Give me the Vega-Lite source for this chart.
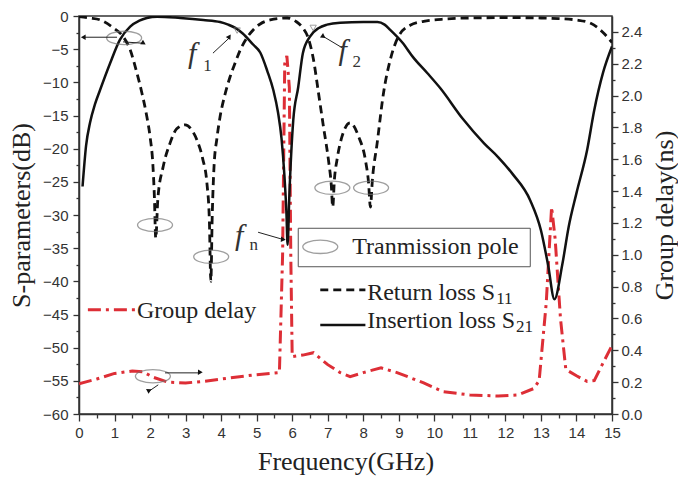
{
  "$schema": "https://vega.github.io/schema/vega-lite/v6.json",
  "width": 533,
  "height": 398,
  "autosize": {"type": "none"},
  "padding": {"left": 79, "top": 16, "right": 66, "bottom": 74},
  "background": "white",
  "view": {"stroke": "#333", "strokeWidth": 1.5},
  "config": {
    "axis": {
      "labelFont": "Liberation Sans", "labelFontSize": 15, "labelColor": "#333",
      "titleFont": "Liberation Serif", "titleFontSize": 26, "titleFontWeight": "normal", "titleColor": "#222",
      "domainColor": "#333", "domainWidth": 1.5, "tickColor": "#333", "tickWidth": 1.3, "grid": false,
      "labelOverlap": false, "labelBound": false, "labelFlush": false
    }
  },
  "datasets": {
    "s11": [
      {"x": 0, "y": -0.1}, {"x": 0.3, "y": -0.3}, {"x": 0.6, "y": -0.6}, {"x": 0.97, "y": -1.8},
      {"x": 1.24, "y": -3.1}, {"x": 1.44, "y": -5.1}, {"x": 1.63, "y": -8.6}, {"x": 1.77, "y": -11.6},
      {"x": 1.91, "y": -15.2}, {"x": 2.0, "y": -18.2}, {"x": 2.08, "y": -22.5}, {"x": 2.12, "y": -27},
      {"x": 2.16, "y": -33.5}, {"x": 2.22, "y": -27.5}, {"x": 2.37, "y": -22.7}, {"x": 2.56, "y": -19.2},
      {"x": 2.75, "y": -17.0}, {"x": 2.99, "y": -16.4}, {"x": 3.2, "y": -17.4}, {"x": 3.32, "y": -18.7},
      {"x": 3.48, "y": -21.5}, {"x": 3.6, "y": -25.2}, {"x": 3.67, "y": -31}, {"x": 3.71, "y": -40},
      {"x": 3.75, "y": -30}, {"x": 3.8, "y": -22.7}, {"x": 3.88, "y": -18.5}, {"x": 3.97, "y": -15.2},
      {"x": 4.1, "y": -12}, {"x": 4.25, "y": -9.2}, {"x": 4.4, "y": -7}, {"x": 4.54, "y": -5.1},
      {"x": 4.7, "y": -3.5}, {"x": 4.9, "y": -2.1}, {"x": 5.1, "y": -1.2}, {"x": 5.38, "y": -0.6},
      {"x": 5.86, "y": -0.3}, {"x": 6.1, "y": -0.8}, {"x": 6.3, "y": -1.8}, {"x": 6.45, "y": -3.3},
      {"x": 6.6, "y": -6.6}, {"x": 6.74, "y": -11.6}, {"x": 6.88, "y": -16.7}, {"x": 7.02, "y": -21.7},
      {"x": 7.1, "y": -25.5}, {"x": 7.14, "y": -28.8}, {"x": 7.19, "y": -24.5}, {"x": 7.26, "y": -21.7},
      {"x": 7.4, "y": -18.2}, {"x": 7.63, "y": -16.1}, {"x": 7.87, "y": -18.2}, {"x": 8.06, "y": -21.7},
      {"x": 8.15, "y": -25.2}, {"x": 8.2, "y": -28.8}, {"x": 8.26, "y": -24.5}, {"x": 8.39, "y": -19.2},
      {"x": 8.57, "y": -11.6}, {"x": 8.76, "y": -6.6}, {"x": 8.99, "y": -3.1}, {"x": 9.32, "y": -1.4},
      {"x": 9.7, "y": -0.8}, {"x": 10.2, "y": -0.5}, {"x": 11, "y": -0.3}, {"x": 12, "y": -0.25},
      {"x": 13, "y": -0.3}, {"x": 13.5, "y": -0.4}, {"x": 14.0, "y": -0.6}, {"x": 14.4, "y": -1.1},
      {"x": 14.77, "y": -2.6}, {"x": 15.0, "y": -4.0}
    ],
    "s21": [
      {"x": 0.1, "y": -25.7}, {"x": 0.2, "y": -19.5}, {"x": 0.31, "y": -16.1}, {"x": 0.45, "y": -13.3},
      {"x": 0.59, "y": -11.2}, {"x": 0.87, "y": -7.2}, {"x": 1.15, "y": -3.6}, {"x": 1.44, "y": -1.6},
      {"x": 1.7, "y": -0.7}, {"x": 1.91, "y": -0.3}, {"x": 2.2, "y": -0.1}, {"x": 2.85, "y": -0.3},
      {"x": 3.5, "y": -0.6}, {"x": 3.97, "y": -0.9}, {"x": 4.2, "y": -1.3}, {"x": 4.4, "y": -1.8},
      {"x": 4.6, "y": -2.6}, {"x": 4.9, "y": -4.3}, {"x": 5.1, "y": -5.5}, {"x": 5.3, "y": -8.3},
      {"x": 5.47, "y": -11.2}, {"x": 5.6, "y": -14.5}, {"x": 5.7, "y": -18.5}, {"x": 5.78, "y": -24},
      {"x": 5.84, "y": -30}, {"x": 5.87, "y": -34.5}, {"x": 5.92, "y": -27}, {"x": 6.03, "y": -15.7},
      {"x": 6.17, "y": -10.7}, {"x": 6.3, "y": -5.6}, {"x": 6.5, "y": -3.1}, {"x": 6.75, "y": -1.8},
      {"x": 6.98, "y": -1.3}, {"x": 7.35, "y": -1.0}, {"x": 8.0, "y": -0.9}, {"x": 8.4, "y": -0.9},
      {"x": 8.6, "y": -1.3}, {"x": 8.76, "y": -2.1}, {"x": 9.1, "y": -4.0}, {"x": 9.4, "y": -6.2},
      {"x": 9.8, "y": -8.6}, {"x": 10.17, "y": -10.9}, {"x": 10.8, "y": -15.5}, {"x": 11.4, "y": -19.2},
      {"x": 11.8, "y": -21.3}, {"x": 12.2, "y": -23.8}, {"x": 12.7, "y": -27.8}, {"x": 13.0, "y": -32.3},
      {"x": 13.2, "y": -37.5}, {"x": 13.38, "y": -42.7}, {"x": 13.6, "y": -37.5}, {"x": 13.78, "y": -31.8},
      {"x": 14.0, "y": -26.7}, {"x": 14.3, "y": -20.2}, {"x": 14.5, "y": -14.2}, {"x": 14.75, "y": -8.5},
      {"x": 15.0, "y": -4.6}
    ],
    "gd": [
      {"x": 0.0, "gd": 0.19}, {"x": 0.5, "gd": 0.22}, {"x": 1.0, "gd": 0.255}, {"x": 1.5, "gd": 0.27},
      {"x": 1.8, "gd": 0.265}, {"x": 2.1, "gd": 0.23}, {"x": 2.5, "gd": 0.2}, {"x": 3.0, "gd": 0.195},
      {"x": 3.5, "gd": 0.205}, {"x": 4.2, "gd": 0.225}, {"x": 4.9, "gd": 0.245}, {"x": 5.64, "gd": 0.26},
      {"x": 5.73, "gd": 1.0}, {"x": 5.79, "gd": 2.2}, {"x": 5.85, "gd": 2.25}, {"x": 5.92, "gd": 2.05},
      {"x": 5.96, "gd": 1.0}, {"x": 6.0, "gd": 0.36}, {"x": 6.3, "gd": 0.37}, {"x": 6.6, "gd": 0.385}, {"x": 7.0, "gd": 0.31},
      {"x": 7.35, "gd": 0.26}, {"x": 7.63, "gd": 0.235}, {"x": 8.0, "gd": 0.26}, {"x": 8.5, "gd": 0.29},
      {"x": 8.95, "gd": 0.26}, {"x": 9.3, "gd": 0.23}, {"x": 9.7, "gd": 0.195}, {"x": 10.25, "gd": 0.14},
      {"x": 11.0, "gd": 0.12}, {"x": 11.8, "gd": 0.113}, {"x": 12.35, "gd": 0.12}, {"x": 12.8, "gd": 0.16},
      {"x": 12.95, "gd": 0.21}, {"x": 13.15, "gd": 0.7}, {"x": 13.3, "gd": 1.3}, {"x": 13.4, "gd": 1.1},
      {"x": 13.55, "gd": 0.6}, {"x": 13.7, "gd": 0.28}, {"x": 14.0, "gd": 0.24}, {"x": 14.3, "gd": 0.205},
      {"x": 14.5, "gd": 0.21}, {"x": 14.77, "gd": 0.33}, {"x": 15.0, "gd": 0.43}
    ],
    "ellipses": [
      {"x": 2.14, "y": -31.5}, {"x": 3.72, "y": -36.3}, {"x": 7.13, "y": -25.9}, {"x": 8.22, "y": -25.9},
      {"x": 6.79, "y": -34.8}, {"x": 1.27, "y": -3.3}, {"x": 2.08, "y": -54.3}
    ],
    "box": [{"x": 6.17, "x2": 12.7, "y": -32.0, "y2": -37.8}],
    "samples": [
      {"kind": "s11", "x": 6.79, "x2": 8.06, "y": -41.3},
      {"kind": "s21", "x": 6.79, "x2": 8.06, "y": -46.6},
      {"kind": "gd", "x": 0.25, "x2": 1.58, "y": -44.3}
    ],
    "arrows": [
      {"name": "left", "x": 1.07, "y": -3.2, "x2": 0.12, "y2": -3.2},
      {"name": "right", "x": 1.24, "y": -3.9, "x2": 1.78, "y2": -4.1},
      {"name": "gd", "x": 2.42, "y": -53.8, "x2": 3.38, "y2": -53.8},
      {"name": "gdsmall", "x": 2.23, "y": -55.6, "x2": 1.96, "y2": -56.6},
      {"name": "f1", "x": 3.77, "y": -5.6, "x2": 4.23, "y2": -3.3},
      {"name": "f2", "x": 7.41, "y": -4.8, "x2": 6.88, "y2": -3.1},
      {"name": "fn", "x": 5.04, "y": -32.6, "x2": 5.75, "y2": -33.7}
    ],
    "markers": [{"x": 4.45, "y": -2.2}, {"x": 6.59, "y": -1.8}],
    "labels": [
      {"x": 7.69, "y": -35.9, "t": "Tranmission pole"},
      {"x": 8.11, "y": -42.8, "t": "Return loss S"},
      {"x": 8.11, "y": -47.0, "t": "Insertion loss S"},
      {"x": 1.63, "y": -45.5, "t": "Group delay"}
    ],
    "subs": [
      {"x": 11.74, "y": -43.4, "t": "11"},
      {"x": 12.3, "y": -47.7, "t": "21"}
    ],
    "fs": [
      {"x": 3.07, "y": -7.1, "t": "f"},
      {"x": 7.3, "y": -6.6, "t": "f"},
      {"x": 4.39, "y": -34.5, "t": "f"}
    ],
    "fsubs": [
      {"x": 3.5, "y": -8.3, "t": "1"},
      {"x": 7.7, "y": -7.7, "t": "2"},
      {"x": 4.8, "y": -35.3, "t": "n"}
    ]
  },
  "encoding": {
    "x": {
      "field": "x", "type": "quantitative",
      "scale": {"domain": [0, 15], "nice": false, "zero": false},
      "axis": {
        "title": "Frequency(GHz)",
        "values": [0,0.5,1,1.5,2,2.5,3,3.5,4,4.5,5,5.5,6,6.5,7,7.5,8,8.5,9,9.5,10,10.5,11,11.5,12,12.5,13,13.5,14,14.5,15],
        "labelExpr": "datum.value % 1 === 0 ? format(datum.value, 'd') : ''",
        "tickSize": {"condition": {"test": "datum.value % 1 === 0", "value": 7}, "value": 4},
        "labelPadding": 4, "titlePadding": 8
      }
    }
  },
  "layer": [
    {
      "data": {"name": "gd"},
      "mark": {"type": "line", "color": "#dd2e36", "strokeWidth": 3, "strokeDash": [13, 5, 3, 5], "clip": true},
      "encoding": {
        "y": {
          "field": "gd", "type": "quantitative",
          "scale": {"domain": [0, 2.5], "nice": false, "zero": false},
          "axis": {
            "orient": "right", "title": "Group delay(ns)",
            "values": [0,0.1,0.2,0.3,0.4,0.5,0.6,0.7,0.8,0.9,1,1.1,1.2,1.3,1.4,1.5,1.6,1.7,1.8,1.9,2,2.1,2.2,2.3,2.4],
            "labelExpr": "round(datum.value*10) % 2 === 0 ? format(datum.value, '.1f') : ''",
            "tickSize": {"condition": {"test": "round(datum.value*10) % 2 === 0", "value": 6}, "value": 3},
            "labelPadding": 3, "titlePadding": 10, "titleAngle": 270, "titleBaseline": "top"
          }
        }
      }
    },
    {
      "encoding": {
        "y": {
          "field": "y", "type": "quantitative",
          "scale": {"domain": [-60, 0], "nice": false, "zero": false},
          "axis": {
            "orient": "left", "title": "S-parameters(dB)",
            "values": [-60,-57.5,-55,-52.5,-50,-47.5,-45,-42.5,-40,-37.5,-35,-32.5,-30,-27.5,-25,-22.5,-20,-17.5,-15,-12.5,-10,-7.5,-5,-2.5,0],
            "labelExpr": "datum.value % 5 === 0 ? datum.label : ''",
            "tickSize": {"condition": {"test": "datum.value % 5 === 0", "value": 6}, "value": 3},
            "labelPadding": 5, "titlePadding": 8
          }
        }
      },
      "layer": [
        {
          "data": {"name": "s11"},
          "mark": {"type": "line", "color": "#111", "strokeWidth": 2.8, "strokeDash": [8, 5], "interpolate": "monotone", "clip": true}
        },
        {
          "data": {"name": "s21"},
          "mark": {"type": "line", "color": "#111", "strokeWidth": 2.5, "interpolate": "monotone", "clip": true}
        },
        {
          "data": {"name": "box"},
          "mark": {"type": "rect", "fill": "white", "stroke": "#555", "strokeWidth": 1},
          "encoding": {"x2": {"field": "x2"}, "y2": {"field": "y2"}}
        },
        {
          "data": {"name": "samples"},
          "transform": [{"filter": "datum.kind === 's11'"}],
          "mark": {"type": "rule", "color": "#111", "strokeWidth": 2.8, "strokeDash": [8, 5]},
          "encoding": {"x2": {"field": "x2"}}
        },
        {
          "data": {"name": "samples"},
          "transform": [{"filter": "datum.kind === 's21'"}],
          "mark": {"type": "rule", "color": "#111", "strokeWidth": 2.5},
          "encoding": {"x2": {"field": "x2"}}
        },
        {
          "data": {"name": "samples"},
          "transform": [{"filter": "datum.kind === 'gd'"}],
          "mark": {"type": "rule", "color": "#dd2e36", "strokeWidth": 3, "strokeDash": [13, 5, 3, 5]},
          "encoding": {"x2": {"field": "x2"}}
        },
        {
          "data": {"name": "ellipses"},
          "mark": {"type": "point", "shape": "M-1,0A1,0.38,0,1,0,1,0A1,0.38,0,1,0,-1,0Z", "size": 1225, "filled": false, "stroke": "#777", "strokeWidth": 1.3}
        },
        {
          "data": {"name": "markers"},
          "mark": {"type": "point", "shape": "triangle-down", "size": 40, "filled": false, "stroke": "#777", "strokeWidth": 1}
        },
        {
          "data": {"name": "arrows"},
          "mark": {"type": "rule", "color": "#222", "strokeWidth": 1},
          "encoding": {"x2": {"field": "x2"}, "y2": {"field": "y2"}}
        },
        {
          "data": {"name": "arrows"},
          "mark": {"type": "point", "shape": "triangle-up", "size": 30, "filled": true, "color": "#111", "opacity": 1},
          "encoding": {
            "x": {"field": "x2", "type": "quantitative"},
            "y": {"field": "y2", "type": "quantitative"},
            "angle": {"field": "name", "type": "nominal", "scale": {"domain": ["left", "right", "gd", "gdsmall", "f1", "f2", "fn"], "range": [270, 95, 90, 235, 47, 301, 105]}, "legend": null}
          }
        },
        {
          "data": {"name": "labels"},
          "mark": {"type": "text", "font": "Liberation Serif", "fontSize": 24, "align": "left", "baseline": "alphabetic", "color": "#222"},
          "encoding": {"text": {"field": "t"}}
        },
        {
          "data": {"name": "subs"},
          "mark": {"type": "text", "font": "Liberation Serif", "fontSize": 17, "align": "left", "baseline": "alphabetic", "color": "#222"},
          "encoding": {"text": {"field": "t"}}
        },
        {
          "data": {"name": "fs"},
          "mark": {"type": "text", "font": "Liberation Serif", "fontStyle": "italic", "fontSize": 30, "align": "left", "baseline": "alphabetic", "color": "#333"},
          "encoding": {"text": {"field": "t"}}
        },
        {
          "data": {"name": "fsubs"},
          "mark": {"type": "text", "font": "Liberation Serif", "fontSize": 17, "align": "left", "baseline": "alphabetic", "color": "#333"},
          "encoding": {"text": {"field": "t"}}
        }
      ]
    }
  ],
  "resolve": {"scale": {"y": "independent"}}
}
